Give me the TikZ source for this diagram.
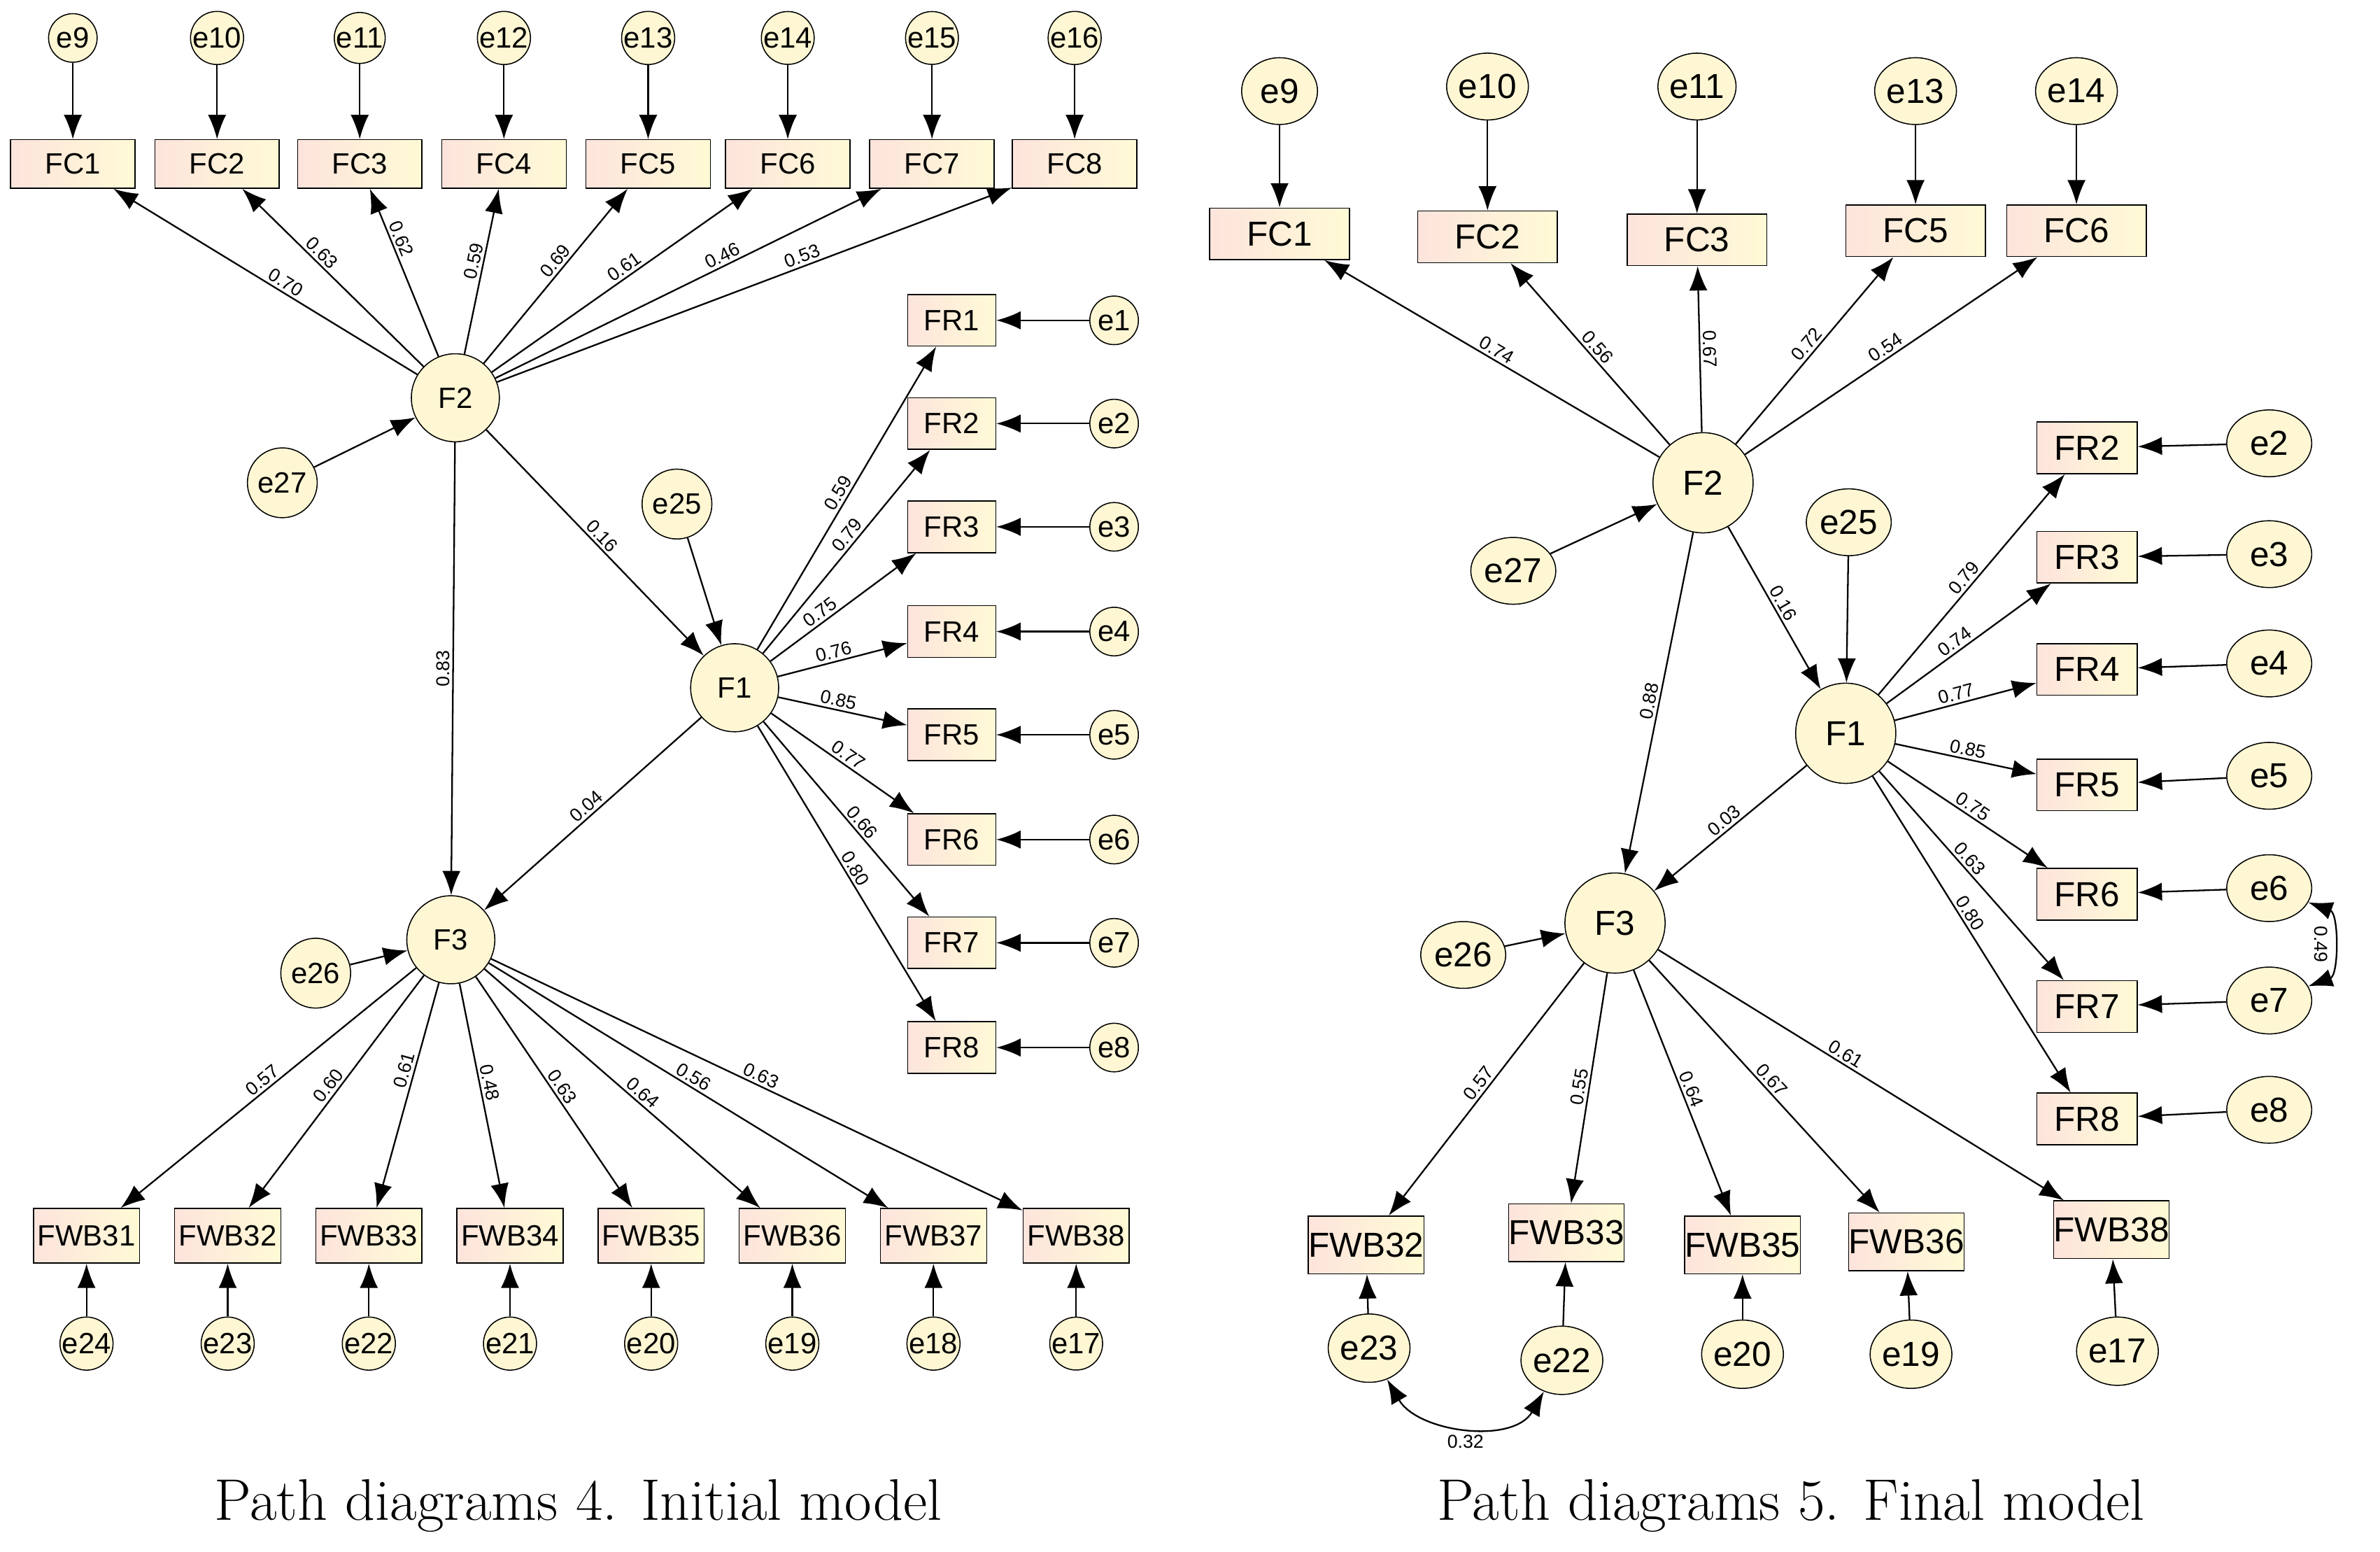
\documentclass[tikz,border=0pt]{standalone}
\usepackage{fontspec}
\newfontfamily\semfont{Liberation Sans}
\usetikzlibrary{arrows.meta,shapes.geometric}
\definecolor{boxl}{RGB}{253,228,220}
\definecolor{boxr}{RGB}{255,250,214}
\definecolor{circ}{RGB}{255,247,212}
\tikzset{
    obs/.style={draw, rectangle, left color=boxl, right color=boxr, inner sep=0pt, font=\semfont\fontsize{11}{12}\selectfont},
    lat/.style={draw, circle, fill=circ, inner sep=0pt, font=\semfont\fontsize{11}{12}\selectfont},
    ell/.style={draw, ellipse, fill=circ, inner sep=0pt, font=\semfont\fontsize{13}{14}\selectfont},
    pth/.style={-{Latex[length=3.2mm,width=2.4mm]}, semithick},
    cov/.style={{Latex[length=3.2mm,width=2.4mm]}-{Latex[length=3.2mm,width=2.4mm]}, semithick},
    ld/.style={sloped, above, inner sep=1pt, font=\semfont\fontsize{7}{8}\selectfont}
}
\begin{document}
\begin{tikzpicture}[x=0.02cm, y=-0.02cm]
\useasboundingbox (0,0) rectangle (1568,1022);
% initial model
\node[lat, minimum size=1.16cm] (LF2) at (300,262) {F2};
\node[lat, minimum size=1.16cm] (LF1) at (484,453) {F1};
\node[lat, minimum size=1.16cm] (LF3) at (297,619) {F3};
\foreach \i/\e/\x/\l/\p in {1/9/48/0.70/.45, 2/10/143/0.63/.6, 3/11/237/0.62/.68, 4/12/332/0.59/.55, 5/13/427/0.69/.55, 6/14/519/0.61/.53, 7/15/614/0.46/.6, 8/16/708/0.53/.6}{
    \node[obs, minimum width=1.64cm, minimum height=0.64cm] (LFC\i) at (\x,108) {FC\i};
    \node[lat, minimum size=0.64cm] (Le\e) at (\x,25) {e\e};
    \draw[pth] (Le\e) -- (LFC\i);
    \draw[pth] (LF2) -- (LFC\i) node[ld, pos=\p] {\l};
}
\foreach \i/\y/\l/\p in {1/211/0.59/.5, 2/279/0.79/.55, 3/347/0.75/.38, 4/416/0.76/.45, 5/484/0.85/.45, 6/553/0.77/.5, 7/621/0.66/.55, 8/690/0.80/.5}{
    \node[obs, minimum width=1.16cm, minimum height=0.68cm] (LFR\i) at (627,\y) {FR\i};
    \node[lat, minimum size=0.64cm] (Le\i) at (734,\y) {e\i};
    \draw[pth] (Le\i) -- (LFR\i);
    \draw[pth] (LF1) -- (LFR\i) node[ld, pos=\p] {\l};
}
\foreach \i/\e/\x/\l/\p in {31/24/57/0.57/.5, 32/23/150/0.60/.5, 33/22/243/0.61/.4, 34/21/336/0.48/.45, 35/20/429/0.63/.5, 36/19/522/0.64/.55, 37/18/615/0.56/.5, 38/17/709/0.63/.5}{
    \node[obs, minimum width=1.4cm, minimum height=0.72cm] (LFWB\i) at (\x,814) {FWB\i};
    \node[lat, minimum size=0.64cm] (Le\e) at (\x,885) {e\e};
    \draw[pth] (Le\e) -- (LFWB\i);
    \draw[pth] (LF3) -- (LFWB\i) node[ld, pos=\p] {\l};
}
\node[lat, minimum size=0.92cm] (Le27) at (186,318) {e27};
\node[lat, minimum size=0.92cm] (Le25) at (446,332) {e25};
\node[lat, minimum size=0.92cm] (Le26) at (208,641) {e26};
\draw[pth] (Le27) -- (LF2);
\draw[pth] (Le25) -- (LF1);
\draw[pth] (Le26) -- (LF3);
\draw[pth] (LF2) -- (LF1) node[ld, pos=.5] {0.16};
\draw[pth] (LF2) -- (LF3) node[ld, pos=.5] {0.83};
\draw[pth] (LF1) -- (LF3) node[ld, pos=.5] {0.04};
% final model
\node[lat, minimum size=1.32cm, font=\semfont\fontsize{13}{14}\selectfont] (RF2) at (1122,318) {F2};
\node[lat, minimum size=1.32cm, font=\semfont\fontsize{13}{14}\selectfont] (RF1) at (1216,483) {F1};
\node[lat, minimum size=1.32cm, font=\semfont\fontsize{13}{14}\selectfont] (RF3) at (1064,608) {F3};
\foreach \i/\e/\x/\ey/\y/\l/\p in {1/9/843/60/154/0.74/.5, 2/10/980/57/156/0.56/.5, 3/11/1118/57/158/0.67/.5, 5/13/1262/60/152/0.72/.5, 6/14/1368/60/152/0.54/.5}{
    \node[obs, minimum width=1.84cm, minimum height=0.68cm, font=\semfont\fontsize{13}{14}\selectfont] (RFC\i) at (\x,\y) {FC\i};
    \node[ell, minimum width=1.0cm, minimum height=0.88cm] (Re\e) at (\x,\ey) {e\e};
    \draw[pth] (Re\e) -- (RFC\i);
    \draw[pth] (RF2) -- (RFC\i) node[ld, pos=\p] {\l};
}
\foreach \i/\y/\ey/\l/\p in {2/295/292/0.79/.5, 3/367/365/0.74/.45, 4/441/437/0.77/.45, 5/517/511/0.85/.5, 6/589/585/0.75/.5, 7/663/659/0.63/.45, 8/737/731/0.80/.45}{
    \node[obs, minimum width=1.32cm, minimum height=0.68cm, font=\semfont\fontsize{13}{14}\selectfont] (RFR\i) at (1375,\y) {FR\i};
    \node[ell, minimum width=1.12cm, minimum height=0.88cm] (Re\i) at (1495,\ey) {e\i};
    \draw[pth] (Re\i) -- (RFR\i);
    \draw[pth] (RF1) -- (RFR\i) node[ld, pos=\p] {\l};
}
\foreach \i/\e/\x/\y/\ex/\ey/\l/\p in {32/23/900/820/902/888/0.57/.5, 33/22/1032/812/1029/896/0.55/.5, 35/20/1148/820/1148/892/0.64/.5, 36/19/1256/818/1259/892/0.67/.5, 38/17/1391/810/1395/890/0.61/.45}{
    \node[obs, minimum width=1.52cm, minimum height=0.76cm, font=\semfont\fontsize{13}{14}\selectfont] (RFWB\i) at (\x,\y) {FWB\i};
    \node[ell, minimum width=0.96cm, minimum height=0.9cm] (Re\e) at (\ex,\ey) {e\e};
    \draw[pth] (Re\e) -- (RFWB\i);
    \draw[pth] (RF3) -- (RFWB\i) node[ld, pos=\p] {\l};
}
\node[ell, minimum width=1.12cm, minimum height=0.88cm] (Re27) at (997,376) {e27};
\node[ell, minimum width=1.12cm, minimum height=0.88cm] (Re25) at (1218,344) {e25};
\node[ell, minimum width=1.12cm, minimum height=0.88cm] (Re26) at (964,629) {e26};
\draw[pth] (Re27) -- (RF2);
\draw[pth] (Re25) -- (RF1);
\draw[pth] (Re26) -- (RF3);
\draw[pth] (RF2) -- (RF1) node[ld, pos=.5] {0.16};
\draw[pth] (RF2) -- (RF3) node[ld, pos=.5] {0.88};
\draw[pth] (RF1) -- (RF3) node[ld, pos=.5] {0.03};
\draw[cov] (Re23) to[out=-60, in=-120] node[below, font=\semfont\fontsize{7}{8}\selectfont] {0.32} (Re22);
\draw[cov] (Re6) to[out=-20, in=20] node[ld, below, pos=.5] {0.49} (Re7);
% captions
\node[font=\fontsize{22}{26}\selectfont] (cap4) at (381,992) {Path diagrams 4. Initial model};
\node[font=\fontsize{22}{26}\selectfont] (cap5) at (1180,992) {Path diagrams 5. Final model};
\end{tikzpicture}
\end{document}
